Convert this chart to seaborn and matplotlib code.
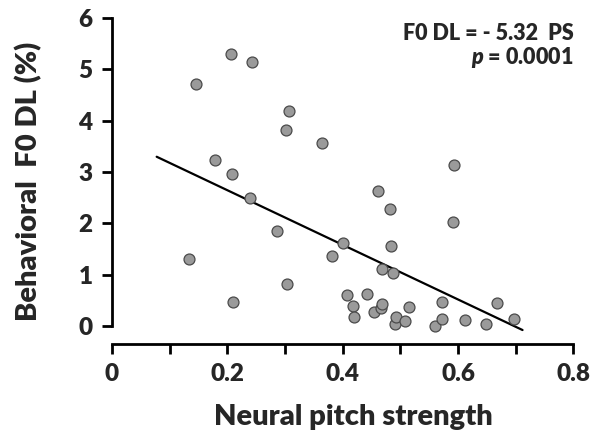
import matplotlib
matplotlib.use("Agg")
import matplotlib.pyplot as plt
import numpy as np
import pandas as pd
import seaborn as sns

# Neural pitch strength (x) vs behavioral F0 DL in % (y)
pitch_strength = [0.134, 0.145, 0.179, 0.206, 0.208, 0.2095, 0.240, 0.2425, 0.287, 0.3015,
                  0.303, 0.307, 0.364, 0.382, 0.401, 0.407, 0.418, 0.420, 0.442, 0.454,
                  0.462, 0.466, 0.469, 0.469, 0.483, 0.484, 0.487, 0.490, 0.493, 0.509,
                  0.515, 0.5595, 0.572, 0.573, 0.592, 0.593, 0.613, 0.649, 0.667, 0.697]
f0_dl = [1.30, 4.72, 3.23, 5.29, 2.97, 0.47, 2.50, 5.14, 1.86, 3.81,
         0.82, 4.19, 3.56, 1.37, 1.61, 0.60, 0.39, 0.175, 0.62, 0.27,
         2.63, 0.36, 0.42, 1.12, 2.27, 1.56, 1.03, 0.045, 0.175, 0.10,
         0.38, 0.01, 0.47, 0.14, 2.03, 3.14, 0.12, 0.03, 0.45, 0.13]

# regression line as printed on the figure
fit_slope = -5.32
fit_intercept = 3.71
fit_range = [0.0775, 0.712]

df = pd.DataFrame({"ps": pitch_strength, "dl": f0_dl})
fit_x = np.array(fit_range)
fit_df = pd.DataFrame({"ps": fit_x, "dl": fit_intercept + fit_slope * fit_x})

sns.set_style("ticks")
plt.rcParams["font.family"] = ["Lato", "DejaVu Sans"]
plt.rcParams["font.weight"] = "heavy"
plt.rcParams["mathtext.fontset"] = "custom"
plt.rcParams["mathtext.it"] = "Lato:italic:heavy"
plt.rcParams["mathtext.rm"] = "Lato:heavy"

fig = plt.figure(figsize=(6.02, 4.36), dpi=100)
ax = fig.add_axes([0.186, 0.211, 0.7663, 0.7477])

sns.lineplot(data=fit_df, x="ps", y="dl", ax=ax, color="black", linewidth=1.6)
sns.scatterplot(data=df, x="ps", y="dl", ax=ax, s=62, color="#9a9a9a",
                edgecolor="#4a4a4a", linewidth=0.9, zorder=3)

ax.set_xlim(0, 0.8)
ax.set_ylim(-0.35, 6)
ax.set_xticks([0, 0.2, 0.4, 0.6, 0.8])
ax.set_xticklabels(["0", "0.2", "0.4", "0.6", "0.8"])
ax.set_xticks([0.1, 0.3, 0.5, 0.7], minor=True)
ax.set_yticks(range(0, 7))

for side in ["top", "right"]:
    ax.spines[side].set_visible(False)
ax.spines["left"].set_bounds(0, 6)
ax.spines["bottom"].set_bounds(0, 0.8)
for side in ["left", "bottom"]:
    ax.spines[side].set_linewidth(2)
    ax.spines[side].set_color("black")

ax.tick_params(which="both", length=7, width=2, color="black", labelsize=17.5, pad=7)
for lab in ax.get_xticklabels() + ax.get_yticklabels():
    lab.set_fontweight("heavy")

ax.set_xlabel("Neural pitch strength", fontsize=21, fontweight="heavy")
ax.set_ylabel("Behavioral  F0 DL (%)", fontsize=21, fontweight="heavy")
ax.xaxis.set_label_coords(0.523, -0.183)
ax.yaxis.set_label_coords(-0.152, 0.5)

ax.text(0.8, 5.9, "F0 DL = - 5.32  PS", ha="right", va="top", fontsize=15.5, fontweight="heavy")
ax.text(0.8, 5.1, r"$p$ = 0.0001", ha="right", va="baseline", fontsize=15.5, fontweight="heavy")

fig.savefig("out.png", dpi=100)
